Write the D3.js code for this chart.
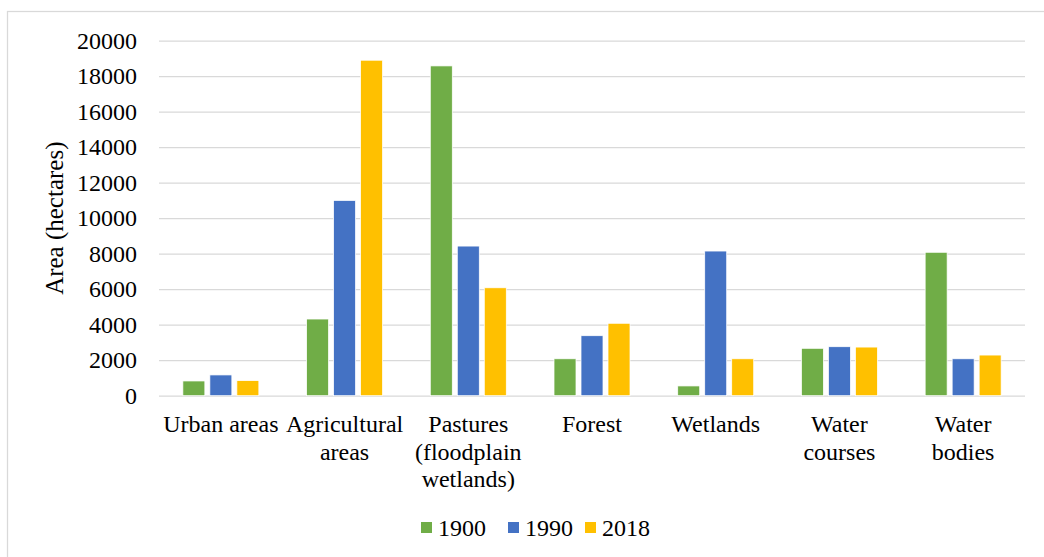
<!DOCTYPE html>
<html>
<head>
<meta charset="utf-8">
<script src="https://cdn.jsdelivr.net/npm/d3@7"></script>
<style>
  html, body { margin: 0; padding: 0; background: #fff; }
  svg { display: block; }
  svg text { font-family: "Liberation Serif", Tinos, "Times New Roman", Times, "Nimbus Roman", "Nimbus Roman No9 L", "DejaVu Serif", "Noto Serif", serif; }
</style>
</head>
<body>
<svg id="chart" width="1044" height="557"></svg>
<script>
// Land-cover categories (each label line is a separate entry)
const categories = [
  ["Urban areas"],
  ["Agricultural", "areas"],
  ["Pastures", "(floodplain", "wetlands)"],
  ["Forest"],
  ["Wetlands"],
  ["Water", "courses"],
  ["Water", "bodies"]
];
const seriesNames = ["1900", "1990", "2018"];
const seriesColors = ["#70ad47", "#4472c4", "#ffc000"];

// Area in hectares, one value per category
const values1900 = [830, 4320, 18580, 2080, 550, 2670, 8080];
const values1990 = [1170, 11000, 8430, 3380, 8150, 2760, 2080];
const values2018 = [850, 18900, 6080, 4080, 2080, 2740, 2290];

const yTicks = [0, 2000, 4000, 6000, 8000, 10000, 12000, 14000, 16000, 18000, 20000];
const yTitle = "Area (hectares)";

const seriesValues = [values1900, values1990, values2018];

const svg = d3.select("#chart");

// Outer chart frame
svg.append("rect")
  .attr("x", 7.5).attr("y", 11.5)
  .attr("width", 1060).attr("height", 560)
  .attr("fill", "none")
  .attr("stroke", "#d9d9d9")
  .attr("stroke-width", 1.25);

const plot = { left: 159, right: 1025, top: 40.7, bottom: 395.7 };

const x0 = d3.scaleBand()
  .domain(d3.range(categories.length))
  .range([plot.left, plot.right])
  .padding(0);

const groupW = 76;
const x1 = d3.scaleBand()
  .domain(d3.range(seriesNames.length))
  .range([(x0.bandwidth() - groupW) / 2, (x0.bandwidth() + groupW) / 2])
  .paddingInner(5 / 27)
  .paddingOuter(0);

const y = d3.scaleLinear()
  .domain([0, 20000])
  .range([plot.bottom, plot.top]);

// Horizontal gridlines and tick labels
const yAxis = d3.axisLeft(y)
  .tickValues(yTicks)
  .tickSize(-(plot.right - plot.left))
  .tickPadding(22)
  .tickFormat(d3.format("d"));

const yg = svg.append("g")
  .attr("transform", `translate(${plot.left},0)`)
  .call(yAxis)
  .attr("font-family", null)
  .attr("font-size", null);
yg.select(".domain").remove();
yg.selectAll(".tick line")
  .attr("stroke", "#d9d9d9")
  .attr("stroke-width", 1.3);
yg.selectAll(".tick text")
  .attr("font-size", 24)
  .attr("fill", "#000");

// Bars
const groups = svg.append("g").selectAll("g")
  .data(categories.map((c, i) => i))
  .join("g")
  .attr("transform", i => `translate(${x0(i)},0)`);

groups.selectAll("rect")
  .data(i => seriesValues.map((vals, s) => ({ s, v: vals[i] })))
  .join("rect")
  .attr("x", d => x1(d.s))
  .attr("width", x1.bandwidth())
  .attr("y", d => y(d.v))
  .attr("height", d => y(0) - y(d.v))
  .attr("fill", d => seriesColors[d.s])
  .attr("stroke", "#fff")
  .attr("stroke-width", 0.75);

// Category labels
const catG = svg.append("g")
  .attr("font-size", 24)
  .attr("text-anchor", "middle")
  .attr("fill", "#000");
categories.forEach((lines, i) => {
  const t = catG.append("text")
    .attr("x", x0(i) + x0.bandwidth() / 2)
    .attr("y", 432);
  lines.forEach((ln, k) => {
    t.append("tspan")
      .attr("x", x0(i) + x0.bandwidth() / 2)
      .attr("dy", k === 0 ? 0 : 27.5)
      .text(ln);
  });
});

// Y axis title
svg.append("text")
  .attr("transform", `translate(63,${(plot.top + plot.bottom) / 2}) rotate(-90)`)
  .attr("text-anchor", "middle")
  .attr("font-size", 25)
  .attr("fill", "#000")
  .text(yTitle);

// Legend
const legendX = [421, 508, 585];
const legend = svg.append("g");
seriesNames.forEach((name, s) => {
  legend.append("rect")
    .attr("x", legendX[s]).attr("y", 522)
    .attr("width", 11).attr("height", 11)
    .attr("fill", seriesColors[s]);
  legend.append("text")
    .attr("x", legendX[s] + 17)
    .attr("y", 536)
    .attr("font-size", 24)
    .attr("fill", "#000")
    .text(name);
});
</script>
</body>
</html>
